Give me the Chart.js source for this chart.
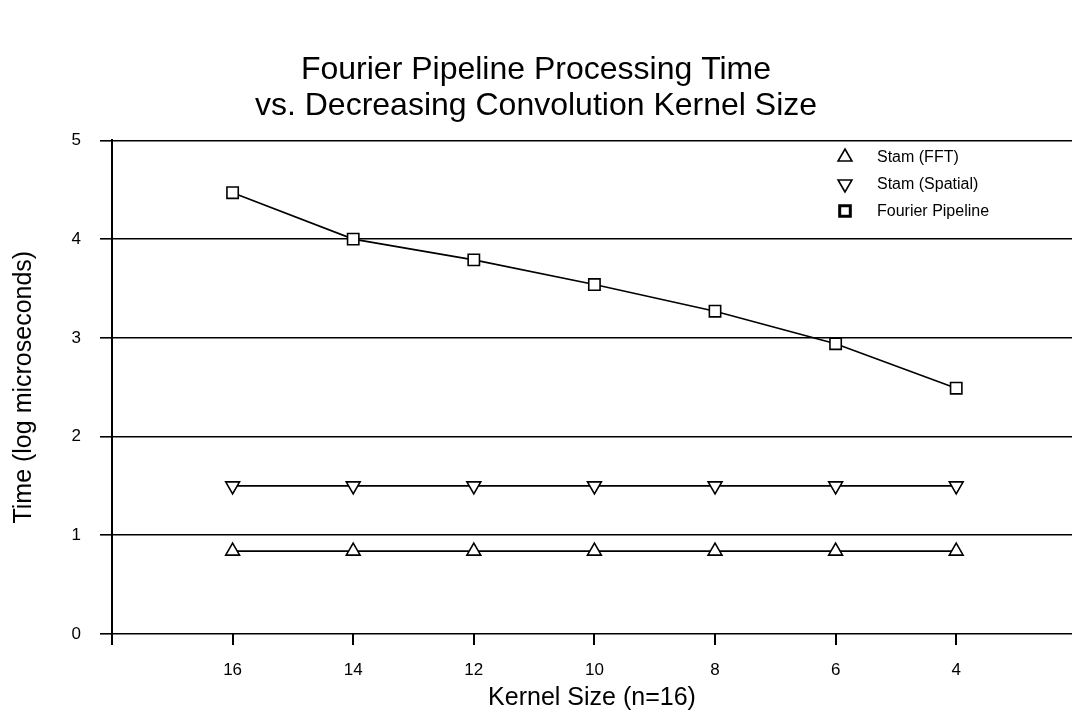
<!DOCTYPE html>
<html>
<head>
<meta charset="utf-8">
<script src="https://cdn.jsdelivr.net/npm/chart.js@4/dist/chart.umd.min.js"></script>
<style>
  html, body { margin: 0; padding: 0; background: #fff; }
  #wrap { width: 1072px; height: 720px; position: relative; }
</style>
</head>
<body>
<div id="wrap"><canvas id="c" width="1072" height="720"></canvas></div>
<script>
const kernelSizes = [16, 14, 12, 10, 8, 6, 4];
const stamFFT = [0.84, 0.84, 0.84, 0.84, 0.84, 0.84, 0.84];
const stamSpatial = [1.50, 1.50, 1.50, 1.50, 1.50, 1.50, 1.50];
const fourierPipeline = [4.47, 4.00, 3.79, 3.54, 3.27, 2.94, 2.49];
const xTickValues = [18, 16, 14, 12, 10, 8, 6, 4];
const yTickValues = [0, 1, 2, 3, 4, 5];
const seriesLabels = ['Stam (FFT)', 'Stam (Spatial)', 'Fourier Pipeline'];

const FONT = '"Liberation Sans", Arial, Helvetica, sans-serif';

function pts(vals) { return kernelSizes.map((k, i) => ({ x: k, y: vals[i] })); }

function ds(label, vals, style, rotation, legendRadius, legendBorder) {
  return {
    label, data: pts(vals),
    borderColor: '#000', backgroundColor: '#fff', borderWidth: 1.6,
    pointStyle: style, pointRotation: rotation, pointRadius: 8, pointBorderWidth: 1.6,
    pointBackgroundColor: '#fff', pointBorderColor: '#000',
    legendRadius, legendBorder
  };
}

new Chart(document.getElementById('c'), {
  type: 'line',
  data: {
    datasets: [
      ds(seriesLabels[0], stamFFT, 'triangle', 0, 8, 1.6),
      ds(seriesLabels[1], stamSpatial, 'triangle', 180, 8, 1.6),
      ds(seriesLabels[2], fourierPipeline, 'rect', 0, 7.5, 3)
    ]
  },
  options: {
    responsive: false,
    animation: false,
    devicePixelRatio: 1,
    layout: { padding: 0, autoPadding: false },
    plugins: {
      legend: { display: false },
      tooltip: { enabled: false },
      title: {
        display: true,
        text: ['Fourier Pipeline Processing Time', 'vs. Decreasing Convolution Kernel Size'],
        color: '#000',
        font: { family: FONT, size: 32, weight: 'normal', lineHeight: 1.1 },
        padding: { top: 53, bottom: 17 }
      }
    },
    scales: {
      x: {
        type: 'linear',
        reverse: true,
        min: 2.08,
        max: 18,
        afterFit(s) { s.height = 86; s.paddingLeft = 0; s.paddingRight = 0; },
        afterBuildTicks(s) { s.ticks = xTickValues.map(v => ({ value: v })); },
        border: { display: false },
        grid: {
          display: true, drawOnChartArea: false, drawTicks: true,
          tickLength: 11, color: '#000', lineWidth: 2
        },
        ticks: {
          color: '#000', padding: 15,
          font: { family: FONT, size: 17 },
          maxRotation: 0,
          callback: (v) => (v === 18 ? '' : String(v))
        },
        title: {
          display: true, text: 'Kernel Size (n=16)', color: '#000',
          font: { family: FONT, size: 25 }, padding: { top: 4, bottom: 7 }
        }
      },
      y: {
        min: 0, max: 5,
        afterFit(s) { s.width = 112; s.paddingTop = 0; s.paddingBottom = 0; },
        afterBuildTicks(s) { s.ticks = yTickValues.map(v => ({ value: v })); },
        border: { display: true, color: '#000', width: 2 },
        grid: {
          display: true, drawOnChartArea: true, drawTicks: true,
          tickLength: 12, color: '#000', lineWidth: 1.6
        },
        ticks: {
          color: '#000', padding: 19,
          font: { family: FONT, size: 17 }
        },
        title: {
          display: true, text: 'Time (log microseconds)', color: '#000',
          font: { family: FONT, size: 25 }, padding: { top: 9, bottom: 0 }
        }
      }
    }
  },
  plugins: [{
    id: 'insideLegend',
    afterDraw(chart) {
      const ctx = chart.ctx;
      const x0 = 845, tx = 877, y0 = 157, dy = 27;
      chart.data.datasets.forEach((d, i) => {
        const y = y0 + i * dy;
        ctx.save();
        ctx.fillStyle = '#fff';
        ctx.strokeStyle = '#000';
        ctx.lineWidth = d.legendBorder;
        Chart.helpers.drawPoint(ctx, {
          pointStyle: d.pointStyle,
          radius: d.legendRadius,
          rotation: d.pointRotation || 0,
          borderWidth: d.legendBorder
        }, x0, y);
        ctx.restore();
        ctx.save();
        ctx.fillStyle = '#000';
        ctx.font = '16px ' + FONT;
        ctx.textBaseline = 'middle';
        ctx.textAlign = 'left';
        ctx.fillText(d.label, tx, y + 1);
        ctx.restore();
      });
    }
  }]
});
</script>
</body>
</html>
